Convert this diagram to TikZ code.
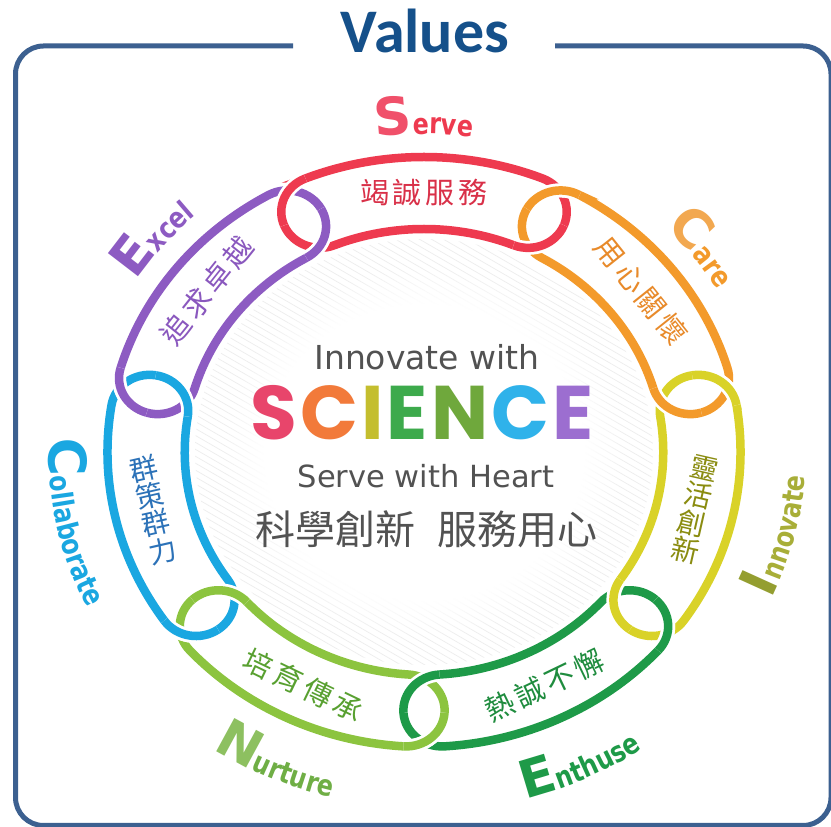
\documentclass[tikz,border=0pt]{standalone}
\usepackage{fontspec}
\setmainfont{DejaVu Sans}
\newfontfamily\cjk{Noto Sans CJK TC}
\newfontfamily\titlefont{Carlito}
\newfontfamily\scifont{Poppins}
\newfontfamily\lblsmall[FakeStretch=0.82]{DejaVu Sans}
\usetikzlibrary{decorations.text,fadings}

\definecolor{frameblue}{HTML}{3C6090}
\definecolor{titleblue}{HTML}{15508A}
\definecolor{cRed}{HTML}{EE3A4F}
\definecolor{cOrange}{HTML}{F39A2B}
\definecolor{cYellow}{HTML}{D9D228}
\definecolor{cDkGreen}{HTML}{1E9A48}
\definecolor{cLtGreen}{HTML}{8CC43F}
\definecolor{cBlue}{HTML}{1AA7E1}
\definecolor{cPurple}{HTML}{8D5BC2}
\definecolor{tRed}{HTML}{D93048}
\definecolor{tOrange}{HTML}{E88A2A}
\definecolor{tYellow}{HTML}{8A8C10}
\definecolor{tDkGreen}{HTML}{1F8C3E}
\definecolor{tLtGreen}{HTML}{58A030}
\definecolor{tBlue}{HTML}{2C72B8}
\definecolor{tPurple}{HTML}{8A58BE}
\definecolor{lRedBig}{HTML}{F0506A}
\definecolor{lOrangeBig}{HTML}{F2A850}
\definecolor{lOlive}{HTML}{A8AE38}
\definecolor{lOliveBig}{HTML}{949E30}
\definecolor{lGreenBig}{HTML}{8DC060}
\definecolor{lGreen}{HTML}{6FAE45}
\definecolor{grayText}{HTML}{525252}
\definecolor{sS}{HTML}{E8456B}
\definecolor{sC}{HTML}{F27A3A}
\definecolor{sI}{HTML}{C4BE2E}
\definecolor{sE}{HTML}{3DAA4C}
\definecolor{sN}{HTML}{6FA83C}
\definecolor{sC2}{HTML}{2FB2EA}
\definecolor{sE2}{HTML}{9C6ED0}

\newcommand\fsz[1]{\fontsize{#1}{#1}\selectfont}
\newcommand\fszb[2]{\fontsize{#1}{#2}\selectfont}
\newcommand\cs{\hspace{4pt}}
\newcommand\bigf{\bfseries\fsz{52}}
\newcommand\smallf{\lblsmall\bfseries\fsz{29}}
\def\Rc{259}\def\Ro{295}\def\Ri{223}\def\hw{36}\def\lspan{22}
\def\linklist{90/cRed, 38.5714/cOrange, -12.8571/cYellow, -64.2857/cDkGreen, -115.7143/cLtGreen, -167.1429/cBlue, 141.4286/cPurple}

\tikzset{
  linkloop/.style={insert path={({#1+\lspan}:\Ro) arc[start angle={#1+\lspan}, end angle={#1-\lspan}, radius=\Ro]
     arc[start angle={#1-\lspan}, end angle={#1-\lspan-180}, radius=\hw]
     arc[start angle={#1-\lspan}, end angle={#1+\lspan}, radius=\Ri]
     arc[start angle={#1+\lspan+180}, end angle={#1+\lspan}, radius=\hw] -- cycle}},
  halo/.style={white, line width=14pt},
  band/.style={line width=8.5pt},
  linktext/.style={font=\cjk\fsz{29}, inner sep=0pt, align=center},
  vlinktext/.style={font=\cjk\fszb{28}{28}, inner sep=0pt, align=center},
}

\begin{document}
\begin{tikzpicture}[x=1pt,y=1pt]
\useasboundingbox (0,0) rectangle (831,827);
\fill[white] (0,0) rectangle (831,827);

% frame and title
\draw[frameblue, line width=5pt, rounded corners=28pt] (293,781) -- (15.5,781) -- (15.5,1.5) -- (831,1.5) -- (831,781) -- (555,781);
\node[anchor=base, inner sep=0pt, text=titleblue, font=\titlefont\bfseries\fsz{62}] (title) at (425,774) {Values};

\begin{scope}[shift={(424,375)}]
  % faint hatching in the centre
  \begin{scope}
    \clip (0,0) ellipse [x radius=229, y radius=213];
    \foreach \i in {-460,-454,...,460} {
      \draw[black!7, line width=0.7pt] ({0.5*\i-0.866*400},{0.866*\i+0.5*400}) -- ({0.5*\i+0.866*400},{0.866*\i-0.5*400});
    }
    \fill[white, path fading=circle with fuzzy edge 20 percent] (0,0) ellipse [x radius=200, y radius=185];
  \end{scope}

  % chain links
  \begin{scope}[xscale=1.073]
    \foreach \a/\c in \linklist {
      \draw[halo, linkloop=\a];
      \draw[band, \c, linkloop=\a];
    }
    % interlocking: redraw parts of the caps on top
    \foreach \a/\c in \linklist {
      \draw[halo] ({\a+\lspan}:\Ro) arc[start angle={\a+\lspan}, end angle={\a+\lspan+90}, radius=\hw];
      \draw[band, \c] ({\a+\lspan}:\Ro) arc[start angle={\a+\lspan}, end angle={\a+\lspan+90}, radius=\hw];
      \draw[halo] ({\a-\lspan}:\Ri) arc[start angle={\a-\lspan-180}, end angle={\a-\lspan-90}, radius=\hw];
      \draw[band, \c] ({\a-\lspan}:\Ri) arc[start angle={\a-\lspan-180}, end angle={\a-\lspan-90}, radius=\hw];
    }
    % texts on the links
    \node[linktext, text=tRed] (serve) at (90:\Rc) {竭\cs{}誠\cs{}服\cs{}務};
    \node[linktext, text=tOrange, rotate=-51.43] (care) at (38.5714:\Rc) {用\cs{}心\cs{}關\cs{}懷};
    \node[vlinktext, text=tYellow, rotate=-12.86] (innov) at (-12.8571:\Rc) {靈\\活\\創\\新};
    \node[linktext, text=tDkGreen, rotate=25.71] (enth) at (-64.2857:\Rc) {熱\cs{}誠\cs{}不\cs{}懈};
    \node[linktext, text=tLtGreen, rotate=-25.71] (nurt) at (-115.7143:\Rc) {培\cs{}育\cs{}傳\cs{}承};
    \node[vlinktext, text=tBlue, rotate=12.86] (coll) at (-167.1429:\Rc) {群\\策\\群\\力};
    \node[linktext, text=tPurple, rotate=51.43] (excel) at (141.4286:\Rc) {追\cs{}求\cs{}卓\cs{}越};
  \end{scope}

  % English labels around the ring
  \path[decorate, decoration={text along path, text align=center,
    text={|\color{lRedBig}\bigf|S|\color{cRed}\smallf|erve}}]
    (112:341.2 and 318) arc[start angle=112, end angle=68, x radius=341.2, y radius=318];
  \path[decorate, decoration={text along path, text align=center,
    text={|\color{lOrangeBig}\bigf|C|\color{cOrange}\smallf|are}}]
    (60:341.2 and 318) arc[start angle=60, end angle=15, x radius=341.2, y radius=318];
  \path[decorate, decoration={text along path, text align=center,
    text={|\color{cPurple}\bigf|E|\color{cPurple}\smallf|xcel}}]
    (163:341.2 and 318) arc[start angle=163, end angle=117, x radius=341.2, y radius=318];
  \path[decorate, decoration={text along path, text align=center,
    text={|\color{lOliveBig}\bigf|I|\color{lOlive}\smallf|nnovate}}]
    (-40:382 and 356) arc[start angle=-40, end angle=12, x radius=382, y radius=356];
  \path[decorate, decoration={text along path, text align=center,
    text={|\color{cBlue}\bigf|C|\color{cBlue}\smallf|ollaborate}}]
    (165:375.5 and 350) arc[start angle=165, end angle=219, x radius=375.5, y radius=350];
  \path[decorate, decoration={text along path, text align=center,
    text={|\color{lGreenBig}\bigf|N|\color{lGreen}\smallf|urture}}]
    (-136:382 and 356) arc[start angle=-136, end angle=-92, x radius=382, y radius=356];
  \path[decorate, decoration={text along path, text align=center,
    text={|\color{cDkGreen}\bigf|E|\color{cDkGreen}\smallf|nthuse}}]
    (-87:386.3 and 360) arc[start angle=-87, end angle=-43, x radius=386.3, y radius=360];
\end{scope}

% centre texts
\node[anchor=base, inner sep=0pt, text=grayText, font=\fsz{33}] (innovwith) at (427,457) {Innovate with};
\node[anchor=base, inner sep=0pt, font=\scifont\bfseries\fsz{76}] (science) at (422,387)
  {\textcolor{sS}{S}\hspace{3pt}\textcolor{sC}{C}\hspace{3pt}\textcolor{sI}{I}\hspace{3pt}\textcolor{sE}{E}\hspace{3pt}\textcolor{sN}{N}\hspace{3pt}\textcolor{sC2}{C}\hspace{3pt}\textcolor{sE2}{E}};
\node[anchor=base, inner sep=0pt, text=grayText, font=\fsz{30.5}] (servewith) at (426,339) {Serve with Heart};
\node[inner sep=0pt, text=grayText, font=\cjk\fsz{40}] (zh) at (426,298) {科學創新\hspace{22pt}服務用心};
\end{tikzpicture}
\end{document}
